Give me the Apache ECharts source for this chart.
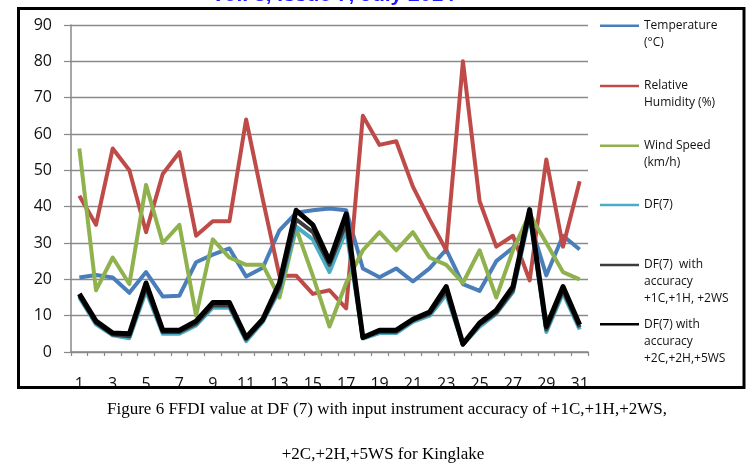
<!DOCTYPE html>
<html>
<head>
<meta charset="utf-8">
<script src="https://cdn.jsdelivr.net/npm/echarts@6/dist/echarts.min.js"></script>
<style>html,body{margin:0;padding:0;background:#fff;}#c{width:752px;height:471px;}</style>
</head>
<body>
<div id="c"></div>
<script>
const days = Array.from({length: 31}, (_, i) => String(i + 1));
const seriesNames = ['Temperature\n(°C)', 'Relative\nHumidity (%)', 'Wind Speed\n(km/h)', 'DF(7)', 'DF(7)  with\naccuracy\n+1C,+1H, +2WS', 'DF(7) with\naccuracy\n+2C,+2H,+5WS'];
const temperature = [20.5, 21.2, 20.5, 16.3, 22, 15.3, 15.5, 24.7, 26.8, 28.5, 20.8, 23.2, 33.5, 38.3, 39, 39.5, 39, 23, 20.6, 23, 19.4, 23, 28.2, 18.7, 16.8, 25, 28.7, 36, 21.1, 32, 28.2];
const humidity = [43, 35, 56, 50, 33, 49, 55, 32, 36, 36, 64, 42, 21, 21, 16, 17, 12, 65, 57, 58, 45.5, 36.5, 28, 80, 41.5, 29, 32, 19.7, 53, 29, 47];
const windSpeed = [56, 17, 26, 18.7, 46, 30, 35, 10, 31, 26, 24, 24, 15, 34, 21, 7, 19, 28, 33, 28, 33, 26, 24, 19, 28, 15, 28, 38, 30, 22, 20];
const df7 = [15, 7.6, 4.6, 3.8, 16.8, 5, 5, 7.3, 12.2, 12.2, 3, 8.3, 17, 34.5, 31, 22, 33.5, 3.7, 5.2, 5.2, 8.3, 10, 15.8, 2, 7, 10.5, 16.5, 37.5, 5.5, 16.2, 6.2];
const df7Acc1 = [15.5, 8, 4.8, 4.3, 17.8, 5.5, 5.5, 7.8, 12.8, 12.8, 3.5, 8.6, 17.8, 36.5, 33, 24, 35.5, 3.9, 5.6, 5.6, 8.7, 10.5, 16.8, 2, 7.5, 10.8, 17, 38.5, 6.2, 17, 6.8];
const df7Acc2 = [16, 8.5, 5.2, 5, 19, 6, 6, 8.5, 13.6, 13.6, 4, 9, 19, 39, 35, 25, 38, 4, 6, 6, 9, 11, 18, 2.2, 8, 11.5, 18, 39.2, 7, 18, 7.5];
const yTicks = {min: 0, max: 90, interval: 10};

const colors = ['#4a7ebb', '#be4b48', '#8fb24e', '#4bacc6', '#3c3c3c', '#000000'];
const widths = [4, 4, 4, 4, 4, 5];
const values = [temperature, humidity, windSpeed, df7, df7Acc1, df7Acc2];

const L = 17;
const iconY = [25.7, 86, 145.7, 205, 265, 324.3];
const legends = seriesNames.map((name, i) => {
  const n = name.split('\n').length;
  const h = n * L;
  const y0 = L / 2 - 1.25, y1 = L / 2 + 1.25;
  const icon = 'path://M0,0h0.01v0.01h-0.01Z M0,' + y0 + 'H39V' + y1 + 'H0Z M38.99,' + (h - 0.01) + 'h0.01v0.01h-0.01Z';
  return {
    data: [{name: name, icon: icon}], left: 600, top: iconY[i] - L / 2, padding: 0,
    itemWidth: 39, itemHeight: h, orient: 'vertical', selectedMode: false,
    itemStyle: {borderWidth: 0},
    textStyle: {fontFamily: 'Open Sans', fontSize: 12, color: '#111', lineHeight: L}
  };
});

const chart = echarts.init(document.getElementById('c'), null, {renderer: 'canvas'});
chart.setOption({
  animation: false,
  backgroundColor: '#fff',
  grid: {left: 71, right: 164, top: 25, bottom: 119, containLabel: false},
  legend: legends,
  xAxis: {
    type: 'category', data: days, boundaryGap: true,
    axisLine: {lineStyle: {color: '#888', width: 1.5}},
    axisTick: {show: true, length: 4, lineStyle: {color: '#888', width: 1.2}, interval: 0},
    axisLabel: {interval: 1, margin: 24, fontFamily: 'Open Sans', fontSize: 16, color: '#111'}
  },
  yAxis: {
    type: 'value', min: yTicks.min, max: yTicks.max, interval: yTicks.interval,
    axisLine: {show: true, lineStyle: {color: '#888', width: 1.5}},
    axisTick: {show: true, length: 7, lineStyle: {color: '#888', width: 1.2}},
    splitLine: {lineStyle: {color: '#8a8a8a', width: 1.3}},
    axisLabel: {margin: 19, fontFamily: 'Open Sans', fontSize: 16, color: '#111'}
  },
  series: seriesNames.map((name, i) => ({
    name: name, type: 'line', data: values[i], symbol: 'none',
    lineStyle: {color: colors[i], width: widths[i], join: 'round'},
    itemStyle: {color: colors[i]}
  })),
  graphic: [
    {type: 'rect', z: 100, shape: {x: 18.5, y: 8.5, width: 725.5, height: 379}, style: {fill: null, stroke: '#000', lineWidth: 3}},
    {type: 'text', z: 100, style: {x: 333, y: 6, text: 'Vol. 3, Issue 7, July 2014', fontFamily: 'Liberation Sans', fontWeight: 'bold', fontSize: 21, fill: '#1a1aff', align: 'center', verticalAlign: 'bottom'}},
    {type: 'text', z: 100, style: {x: 387, y: 410, text: 'Figure 6 FFDI value at DF (7) with input instrument accuracy of +1C,+1H,+2WS,', fontFamily: 'Liberation Serif', fontSize: 17, fill: '#000', align: 'center', verticalAlign: 'middle'}},
    {type: 'text', z: 100, style: {x: 383, y: 455, text: '+2C,+2H,+5WS for Kinglake', fontFamily: 'Liberation Serif', fontSize: 17, fill: '#000', align: 'center', verticalAlign: 'middle'}}
  ]
});
</script>
</body>
</html>
